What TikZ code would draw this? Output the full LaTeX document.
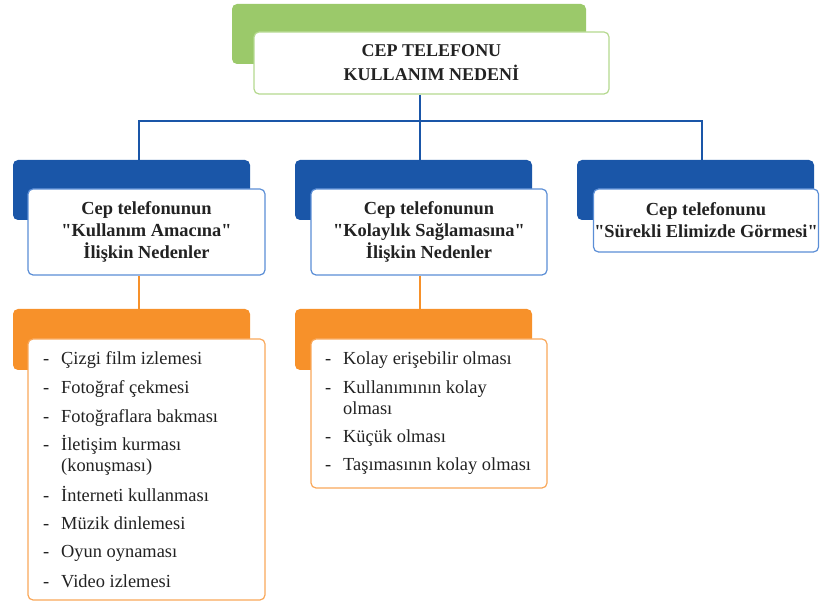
\documentclass[tikz,border=0pt]{standalone}
\usepackage{fontspec}
\setmainfont{Liberation Serif}
\newcommand\sq{\XeTeXglyph\XeTeXcharglyph"22\relax}
\definecolor{cgreen}{HTML}{9BC96A}
\definecolor{cgreenl}{HTML}{B5D98F}
\definecolor{cblue}{HTML}{1A56A8}
\definecolor{cbluel}{HTML}{5B8ED6}
\definecolor{corange}{HTML}{F7912A}
\definecolor{corangel}{HTML}{F9A85A}
\definecolor{ctext}{HTML}{222222}
\begin{document}
\begin{tikzpicture}[x=1pt,y=-1pt,
  back/.style={rounded corners=5pt, inner sep=0pt, draw=none},
  wbox/.style={rounded corners=5pt, draw, fill=white, line width=1.2pt, inner sep=0pt, text=ctext, align=center},
  ttl/.style={font=\fontsize{18}{24}\selectfont\bfseries},
  hdg/.style={font=\fontsize{18.4}{22}\selectfont\bfseries},
  itm/.style={anchor=base west, inner sep=0pt, text=ctext, font=\fontsize{18.4}{21}\selectfont},
  bline/.style={draw=cblue, line width=1.8pt},
  oline/.style={draw=corange, line width=1.8pt}
]
\useasboundingbox (0,0) rectangle (820,601);

% top
\node[back, fill=cgreen, minimum width=354pt, minimum height=60pt] (tb) at (409,34) {};
\node[wbox, draw=cgreenl, ttl, minimum width=355pt, minimum height=62pt] (top) at (431.5,63) {CEP TELEFONU\\KULLANIM NEDENİ};

% second level
\node[back, fill=cblue, minimum width=237pt, minimum height=60pt] (b1) at (131.5,190) {};
\node[back, fill=cblue, minimum width=237pt, minimum height=60pt] (b2) at (413.5,190) {};
\node[back, fill=cblue, minimum width=237pt, minimum height=60pt] (b3) at (695.5,190) {};

\node[wbox, draw=cbluel, hdg, minimum width=237pt, minimum height=86pt] (w1) at (146.5,232) {Cep telefonunun\\\sq Kullanım Amacına\sq\\İlişkin Nedenler};
\node[wbox, draw=cbluel, hdg, minimum width=236pt, minimum height=86pt] (w2) at (429,232) {Cep telefonunun\\\sq Kolaylık Sağlamasına\sq\\İlişkin Nedenler};
\node[wbox, draw=cbluel, hdg, minimum width=225pt, minimum height=63pt] (w3) at (706,220.5) {Cep telefonunu\\\sq Sürekli Elimizde Görmesi\sq};

% third level
\node[back, fill=corange, minimum width=237pt, minimum height=61pt] (o1) at (131.5,339.5) {};
\node[back, fill=corange, minimum width=237pt, minimum height=61pt] (o2) at (413.5,339.5) {};
\node[wbox, draw=corangel, minimum width=237pt, minimum height=261pt] (l1) at (146.5,469.5) {};
\node[wbox, draw=corangel, minimum width=236pt, minimum height=149pt] (l2) at (429,413.5) {};

% connectors
\coordinate (jc) at (420,121);
\coordinate (jl) at (139,121);
\coordinate (jr) at (702,121);
\draw[bline] (jc |- top.south) -- (jc);
\draw[bline] (jl |- b1.north) -- (jl) -- (jr) -- (jr |- b3.north);
\draw[bline] (jc) -- (jc |- b2.north);
\draw[oline] (jl |- w1.south) -- (jl |- o1.north);
\draw[oline] (jc |- w2.south) -- (jc |- o2.north);

% left list
\foreach \n/\y/\t in {a/365/Çizgi film izlemesi, b/394/Fotoğraf çekmesi, c/423/Fotoğraflara bakması, d/451/İletişim kurması, f/502/İnterneti kullanması, g/530/Müzik dinlemesi, h/558/Oyun oynaması, i/587/Video izlemesi}{
  \node[itm] (ld\n) at (43,\y) {-};
  \node[itm] (lt\n) at (61,\y) {\t};
}
\node[itm] (lte) at (61,472) {(konuşması)};

% middle list
\foreach \n/\y/\t in {a/365/Kolay erişebilir olması, b/394/Kullanımının kolay, d/443/Küçük olması, e/471/Taşımasının kolay olması}{
  \node[itm] (md\n) at (325,\y) {-};
  \node[itm] (mt\n) at (343,\y) {\t};
}
\node[itm] (mtc) at (343,415) {olması};
\end{tikzpicture}
\end{document}
